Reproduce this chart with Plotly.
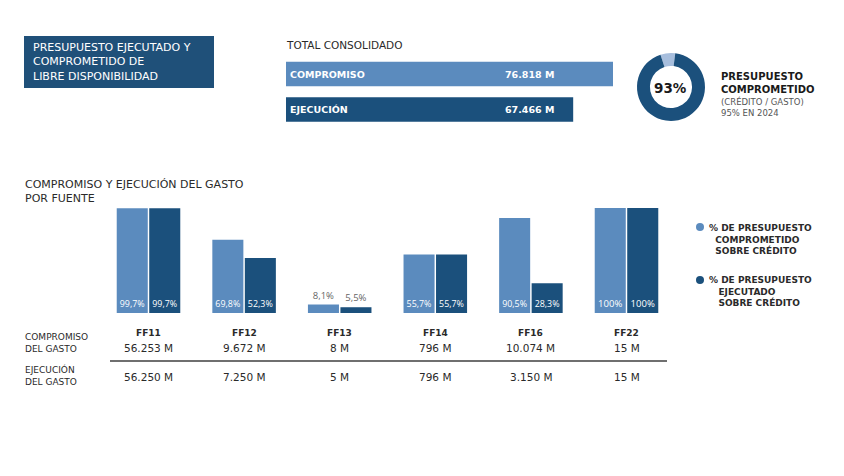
import plotly.graph_objects as go

W, H = 844, 476

# ---------------- data ----------------
fuentes = ["FF11", "FF12", "FF13", "FF14", "FF16", "FF22"]
pct_comprometido = [99.7, 69.8, 8.1, 55.7, 90.5, 100]
pct_ejecutado = [99.7, 52.3, 5.5, 55.7, 28.3, 100]
compromiso_gasto = ["56.253 M", "9.672 M", "8 M", "796 M", "10.074 M", "15 M"]
ejecucion_gasto = ["56.250 M", "7.250 M", "5 M", "796 M", "3.150 M", "15 M"]

total_labels = ["COMPROMISO", "EJECUCIÓN"]
total_values = [76818, 67466]
total_text = ["76.818 M", "67.466 M"]

donut_labels = ["No comprometido", "Comprometido"]
donut_values = [7, 93]

LIGHT = "#5B8BBE"
DARK = "#1B507C"
PALE = "#A7BEDD"
TXT = "#2a2a2a"
GRAY = "#555555"
FONT = "DejaVu Sans"
BARFONT = "Open Sans"


def px(x):
    return x / W


def py(y):
    return 1 - y / H


def fmt_pct(v):
    if v == 100:
        return "100%"
    return f"{v:.1f}".replace(".", ",") + "%"


def textpos(vals):
    return ["outside" if v < 15 else "inside" for v in vals]


fig = go.Figure()

# vertical grouped bars
for vals, col, name in [(pct_comprometido, LIGHT, "% DE PRESUPUESTO COMPROMETIDO SOBRE CRÉDITO"),
                        (pct_ejecutado, DARK, "% DE PRESUPUESTO EJECUTADO SOBRE CRÉDITO")]:
    fig.add_trace(go.Bar(
        x=fuentes, y=vals, name=name,
        marker=dict(color=col, line=dict(width=0)),
        text=[fmt_pct(v) for v in vals], textposition=textpos(vals),
        insidetextanchor="start", textangle=0,
        insidetextfont=dict(color="white", size=9.5, family=BARFONT),
        outsidetextfont=dict(color="#666666", size=9.5, family=BARFONT),
        cliponaxis=False, xaxis="x", yaxis="y", showlegend=False, hoverinfo="skip",
    ))

# horizontal total bars
fig.add_trace(go.Bar(
    x=total_values, y=total_labels, orientation="h", width=0.69,
    marker=dict(color=[LIGHT, DARK], line=dict(width=0)),
    xaxis="x2", yaxis="y2", showlegend=False, hoverinfo="skip",
))

# donut
fig.add_trace(go.Pie(
    labels=donut_labels, values=donut_values, hole=0.62, sort=False,
    direction="clockwise", rotation=-18,
    marker=dict(colors=[PALE, DARK], line=dict(width=0)),
    textinfo="none", showlegend=False, hoverinfo="skip",
    domain=dict(x=[px(637), px(705)], y=[py(121), py(53)]),
))

annotations = []
shapes = []


def ann(x, y, text, size=10, color=TXT, xanchor="left", yanchor="middle", align="left", xref="paper"):
    annotations.append(dict(
        x=x, y=y, xref=xref, yref="paper", text=text, showarrow=False,
        xanchor=xanchor, yanchor=yanchor, align=align,
        font=dict(family=FONT, size=size, color=color),
    ))


# title box
shapes.append(dict(type="rect", xref="paper", yref="paper",
                   x0=px(24), x1=px(214), y0=py(88), y1=py(36),
                   fillcolor="#1F5079", line=dict(width=0), layer="below"))
ann(px(31), py(62), "PRESUPUESTO EJECUTADO Y<br>COMPROMETIDO DE<br>LIBRE DISPONIBILIDAD",
    size=11, color="white")

# total consolidado
ann(px(284), py(45), "TOTAL CONSOLIDADO", size=10.5, color=TXT)
for lab, txt, yc in zip(total_labels, total_text, [74, 109.5]):
    ann(px(288), py(yc), f"<b>{lab}</b>", size=9.5, color="white")
    ann(px(503), py(yc), f"<b>{txt}</b>", size=9.5, color="white")

# donut text
ann(px(670), py(88), "<b>93%</b>", size=13.5, color="#1a1a1a", xanchor="center")
ann(px(719), py(83), "<b>PRESUPUESTO<br>COMPROMETIDO</b>", size=10, color="#1a1a1a")
ann(px(719), py(107), "(CRÉDITO / GASTO)<br>95% EN 2024", size=8.5, color=GRAY)

# section title
ann(px(23), py(191), "COMPROMISO Y EJECUCIÓN DEL GASTO<br>POR FUENTE", size=11, color=TXT)

# legend
shapes.append(dict(type="circle", xref="paper", yref="paper",
                   x0=px(696), x1=px(704), y0=py(231), y1=py(223),
                   fillcolor=LIGHT, line=dict(width=0)))
shapes.append(dict(type="circle", xref="paper", yref="paper",
                   x0=px(696), x1=px(704), y0=py(284), y1=py(276),
                   fillcolor=DARK, line=dict(width=0)))
ann(px(707), py(239), "<b>% DE PRESUPUESTO<br>  COMPROMETIDO<br>  SOBRE CRÉDITO</b>", size=9, color=TXT)
ann(px(707), py(291), "<b>% DE PRESUPUESTO<br>   EJECUTADO<br>   SOBRE CRÉDITO</b>", size=9, color=TXT)

# table
ann(px(23), py(343), "COMPROMISO<br>DEL GASTO", size=9, color=TXT)
ann(px(23), py(375), "EJECUCIÓN<br>DEL GASTO", size=9, color=TXT)
for f, c, e in zip(fuentes, compromiso_gasto, ejecucion_gasto):
    ann(f, py(333), f"<b>{f}</b>", size=9, color=TXT, xanchor="center", xref="x")
    ann(f, py(348), c, size=10.5, color=TXT, xanchor="center", xref="x")
    ann(f, py(377), e, size=10.5, color=TXT, xanchor="center", xref="x")
shapes.append(dict(type="line", xref="paper", yref="paper",
                   x0=px(110), x1=px(667), y0=py(361), y1=py(361),
                   line=dict(color="#6f6f6f", width=2)))

fig.update_layout(
    width=W, height=H, margin=dict(l=0, r=0, t=0, b=0),
    paper_bgcolor="white", plot_bgcolor="rgba(0,0,0,0)",
    barmode="group", bargap=0.32, bargroupgap=0.045,
    font=dict(family=FONT, color=TXT),
    xaxis=dict(domain=[px(100.7), px(674.3)], range=[-0.5, 5.5], visible=False,
               type="category", fixedrange=True, anchor="y"),
    yaxis=dict(domain=[py(313), py(208)], range=[0, 100], visible=False,
               fixedrange=True, anchor="x"),
    xaxis2=dict(domain=[px(286), px(613)], range=[0, 76818], visible=False,
                fixedrange=True, anchor="y2"),
    yaxis2=dict(domain=[py(127.25), py(56.25)], range=[1.5, -0.5], visible=False,
                type="category", categoryarray=total_labels, fixedrange=True, anchor="x2"),
    annotations=annotations, shapes=shapes,
)

fig.write_html("out.html")
